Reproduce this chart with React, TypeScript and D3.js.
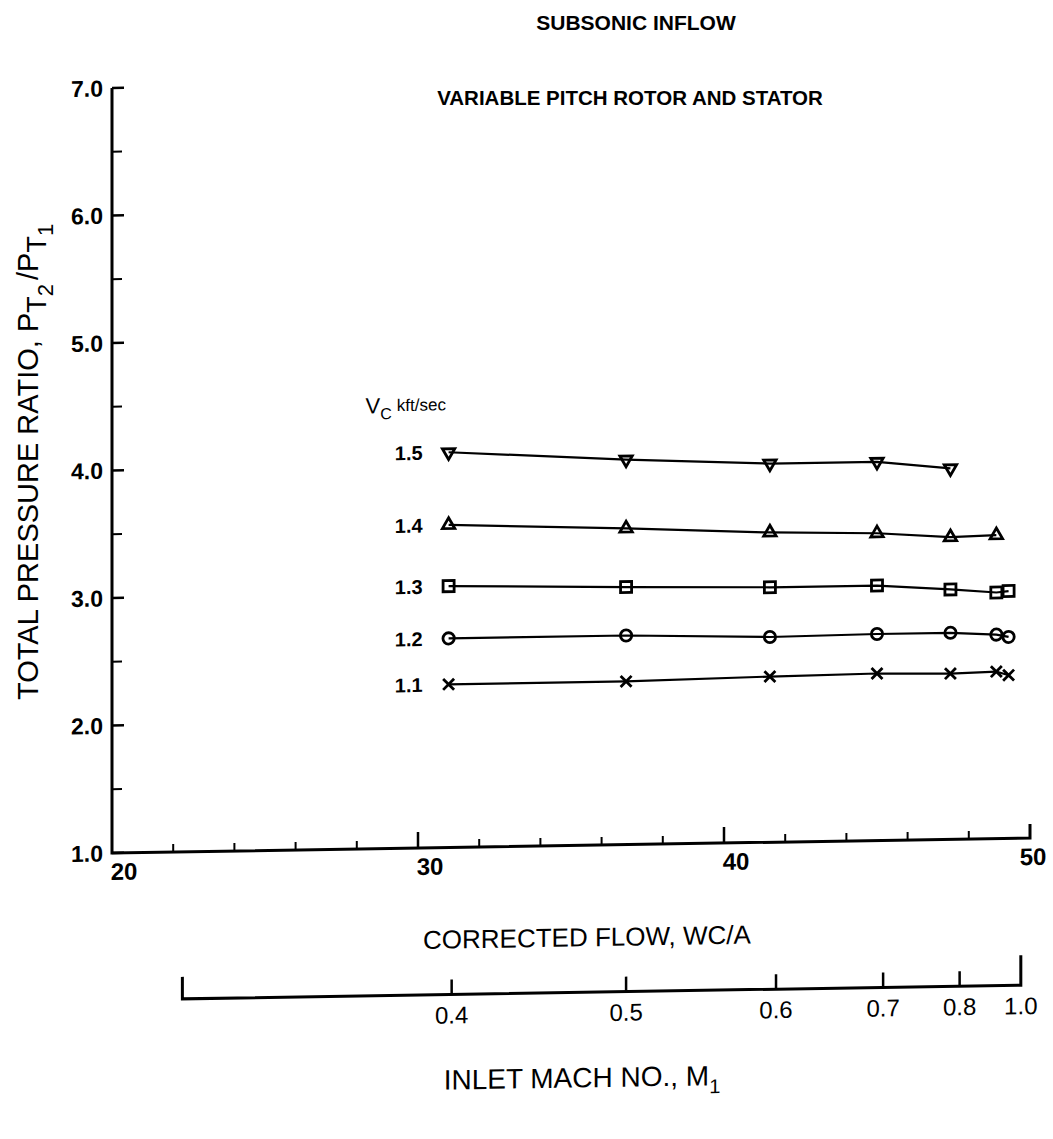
import React from "react";
import * as d3 from "d3";

// corrected flow, WC/A, for the measured points
const flow = [31.0, 36.8, 41.5, 45.0, 47.4, 48.9, 49.3];

// rotor speed Vc, kft/sec
const speeds = ["1.5", "1.4", "1.3", "1.2", "1.1"];
const ratio15 = [4.1, 4.02, 3.97, 3.97, 3.91];
const ratio14 = [3.53, 3.48, 3.43, 3.41, 3.37, 3.38];
const ratio13 = [3.05, 3.02, 3.0, 3.0, 2.96, 2.93, 2.94];
const ratio12 = [2.64, 2.64, 2.61, 2.62, 2.62, 2.6, 2.58];
const ratio11 = [2.28, 2.28, 2.3, 2.31, 2.3, 2.31, 2.28];

const yTicks = [1, 2, 3, 4, 5, 6, 7];
const yMinor = [1.5, 2.5, 3.5, 4.5, 5.5, 6.5];
const xTicks = [20, 30, 40, 50];
const xMinor = [22, 24, 26, 28, 32, 34, 36, 38, 42, 44, 46, 48];

// inlet mach number vs corrected flow (secondary scale)
const machTicks = [0.4, 0.5, 0.6, 0.7, 0.8, 1.0];
const machFlow = [31.1, 36.8, 41.7, 45.2, 47.7, 49.7];
const machStart = 22.3;

const font = "'Liberation Sans', Arial, Helvetica, sans-serif";

const x = d3.scaleLinear().domain([20, 50]).range([112, 1030]);
const y = d3.scaleLinear().domain([1, 7]).range([853, 88]);
const mach = d3.scaleLinear().domain(machTicks).range(machFlow);

const series = [ratio15, ratio14, ratio13, ratio12, ratio11];
const markers = [
  { type: d3.symbolTriangle2, size: 110, rot: 180 },
  { type: d3.symbolTriangle2, size: 110, rot: 0 },
  { type: d3.symbolSquare2, size: 155, rot: 0 },
  { type: d3.symbolCircle, size: 100, rot: 0 },
  { type: d3.symbolTimes, size: 80, rot: 0 },
];

const line = d3
  .line<number>()
  .x((d, i) => x(flow[i]))
  .y((d) => y(d));

// the scanned sheet is slightly skewed
const shear = "translate(112,853) matrix(1,-0.0163,0,1,0,0) translate(-112,-853)";

const machY = 1000;

export default function App() {
  const [x0, x1] = x.range();
  const [yb, yt] = y.range();

  return (
    <svg
      width={1053}
      height={1139}
      style={{ position: "absolute", left: 0, top: 0, background: "#fff" }}
      fontFamily={font}
    >
      <text x={636} y={30} textAnchor="middle" fontSize={21} fontWeight="bold">
        SUBSONIC INFLOW
      </text>
      <text x={630} y={105} textAnchor="middle" fontSize={20.5} fontWeight="bold">
        VARIABLE PITCH ROTOR AND STATOR
      </text>

      <g transform={shear}>
        {/* axes */}
        <path
          d={`M${x0},${yt}V${yb}H${x1}V${yb - 14}`}
          fill="none"
          stroke="#000"
          strokeWidth={3}
        />
        {yTicks.map((t) => (
          <g key={"y" + t}>
            <line x1={x0} x2={x0 + 12} y1={y(t)} y2={y(t)} stroke="#000" strokeWidth={2.5} />
            <text x={x0 - 9} y={y(t)} dy="0.36em" textAnchor="end" fontSize={23} fontWeight="bold">
              {t.toFixed(1)}
            </text>
          </g>
        ))}
        {yMinor.map((t) => (
          <line key={"ym" + t} x1={x0} x2={x0 + 10} y1={y(t)} y2={y(t)} stroke="#000" strokeWidth={2} />
        ))}
        {xTicks.map((t) => (
          <g key={"x" + t}>
            {t > 20 && t < 50 && (
              <line x1={x(t)} x2={x(t)} y1={yb} y2={yb - 16} stroke="#000" strokeWidth={2.5} />
            )}
            <text
              x={x(t) + (t === 50 ? 3 : 12)}
              y={yb + 27}
              textAnchor="middle"
              fontSize={24}
              fontWeight="bold"
            >
              {t}
            </text>
          </g>
        ))}
        {xMinor.map((t) => (
          <line key={"xm" + t} x1={x(t)} x2={x(t)} y1={yb} y2={yb - 8} stroke="#000" strokeWidth={2} />
        ))}

        {/* data */}
        {series.map((vals, s) => (
          <g key={speeds[s]}>
            <path d={line(vals) || ""} fill="none" stroke="#000" strokeWidth={2.2} />
            {vals.map((v, i) => (
              <path
                key={i}
                d={d3.symbol(markers[s].type, markers[s].size)() || ""}
                transform={`translate(${x(flow[i])},${y(v)}) rotate(${markers[s].rot})`}
                fill="none"
                stroke="#000"
                strokeWidth={2.8}
              />
            ))}
            <text
              x={x(flow[0]) - 26}
              y={y(vals[0])}
              dy="0.36em"
              textAnchor="end"
              fontSize={20}
              fontWeight="bold"
            >
              {speeds[s]}
            </text>
          </g>
        ))}
        <text x={x(flow[0]) - 83} y={y(ratio15[0]) - 40} fontSize={22}>
          V
          <tspan fontSize={16} dy={6}>C</tspan>
          <tspan fontSize={17} dx={5} dy={-8}>kft/sec</tspan>
        </text>

        <text x={587} y={954} textAnchor="middle" fontSize={26}>
          CORRECTED FLOW, WC/A
        </text>

        {/* mach number scale */}
        <path
          d={`M${x(machStart)},${machY - 22}V${machY}H${x(mach(1.0))}V${machY - 30}`}
          fill="none"
          stroke="#000"
          strokeWidth={3}
        />
        {machTicks.map((m) => (
          <g key={"m" + m}>
            {m < 1 && (
              <line
                x1={x(mach(m))}
                x2={x(mach(m))}
                y1={machY}
                y2={machY - 15}
                stroke="#000"
                strokeWidth={2.5}
              />
            )}
            <text x={x(mach(m))} y={machY + 29} textAnchor="middle" fontSize={24}>
              {m.toFixed(1)}
            </text>
          </g>
        ))}
        <text x={582} y={1095} textAnchor="middle" fontSize={28}>
          INLET MACH NO., M
          <tspan fontSize={20} dy={8}>1</tspan>
        </text>
      </g>

      <text transform="translate(38,700) rotate(-90)" fontSize={29}>
        TOTAL PRESSURE RATIO, P
        <tspan fontSize={27} dy={8}>T</tspan>
        <tspan fontSize={22} dy={7}>2</tspan>
        <tspan fontSize={29} dx={4} dy={-15}>/P</tspan>
        <tspan fontSize={27} dy={8}>T</tspan>
        <tspan fontSize={22} dy={7}>1</tspan>
      </text>
    </svg>
  );
}
